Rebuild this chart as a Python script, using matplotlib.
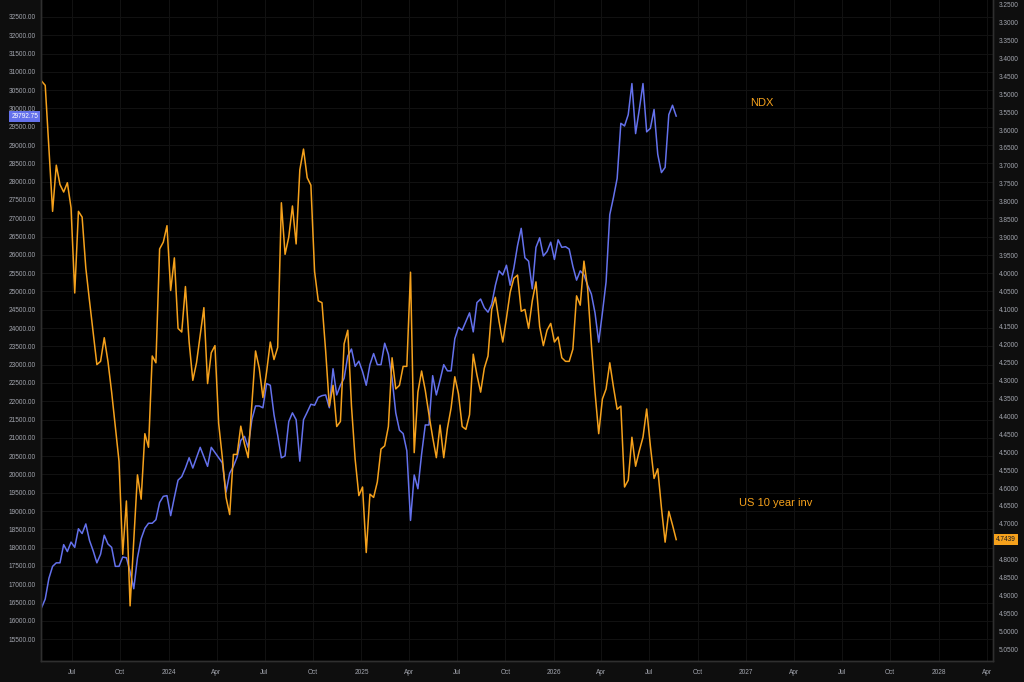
import numpy as np
import pandas as pd
import matplotlib
matplotlib.use("Agg")
import matplotlib.pyplot as plt
import matplotlib.dates as mdates
import matplotlib.ticker as mticker
import matplotlib.transforms as mtransforms

# weekly closes, first bar 2023-05-05
start = pd.Timestamp("2023-05-05")

ndx = [16359, 16597, 17163, 17490, 17586, 17586, 18083, 17894, 18152, 18009,
       18517, 18386, 18649, 18198, 17914, 17586, 17821, 18340, 18102, 18009,
       17490, 17490, 17744, 17725, 17348, 16878, 17725, 18245, 18528, 18668,
       18668, 18764, 19234, 19403, 19422, 18875, 19375, 19845, 19941, 20176,
       20458, 20176, 20458, 20742, 20480, 20222, 20742, 20600, 20457, 20318,
       19518, 20034, 20222, 20476, 20930, 21042, 20742, 21496, 21872, 21872,
       21823, 22484, 22438, 21635, 21072, 20457, 20506, 21446, 21684, 21496,
       20364, 21496, 21703, 21919, 21892, 22107, 22154, 22173, 21823, 22889,
       22173, 22438, 22627, 23238, 23427, 22954, 23096, 22812, 22438, 23001,
       23304, 23001, 23001, 23586, 23285, 22627, 21684, 21211, 21118, 20646,
       18745, 19987, 19610, 20553, 21353, 21353, 22700, 22173, 22577, 23001,
       22831, 22831, 23708, 24020, 23943, 24178, 24416, 23897, 24697, 24793,
       24555, 24435, 24651, 25170, 25564, 25452, 25717, 25170, 25640, 26252,
       26725, 25921, 25828, 25074, 26206, 26468, 25971, 26091, 26347, 25875,
       26413, 26206, 26224, 26159, 25687, 25310, 25564, 25452, 25170, 24932,
       24416, 23616, 24416, 25263, 27099, 27571, 28091, 29596, 29522, 29831,
       30681, 29314, 29973, 30681, 29361, 29457, 29973, 28749, 28249, 28391,
       29831, 30088, 29792.75]

# US 10y yield (plotted on an inverted axis), turning points by week number
us10_week = [0, 1, 3, 4, 5, 6, 7, 8, 9, 10, 11, 12, 13, 15, 16, 17, 18, 19, 21, 22,
             23, 24, 26, 27, 28, 29, 30, 31, 32, 33, 34, 35, 36, 37, 38, 39, 40, 41, 42, 44,
             45, 46, 47, 48, 49, 50, 51, 52, 53, 54, 55, 56, 58, 59, 60, 61, 62, 63, 64, 65,
             66, 67, 68, 69, 70, 71, 72, 73, 74, 75, 76, 77, 78, 79, 80, 81, 82, 83, 84, 85,
             86, 87, 88, 89, 90, 91, 92, 93, 94, 95, 96, 97, 98, 99, 100, 101, 102, 103, 104, 105,
             106, 107, 108, 109, 110, 111, 112, 113, 114, 115, 116, 117, 118, 119, 120, 121, 122, 123, 124, 125,
             126, 127, 128, 129, 130, 131, 132, 133, 134, 135, 136, 137, 138, 139, 140, 141, 142, 143, 144, 145,
             146, 147, 148, 149, 150, 151, 152, 153, 154, 155, 156, 157, 158, 159, 160, 161, 162, 163, 164, 165,
             166, 167, 168, 169, 170, 171, 172]
us10 = [3.463, 3.475, 3.827, 3.698, 3.752, 3.773, 3.747, 3.817, 4.055, 3.827,
        3.843, 3.985, 4.077, 4.255, 4.246, 4.180, 4.246, 4.332, 4.525, 4.785,
        4.636, 4.929, 4.563, 4.631, 4.448, 4.486, 4.231, 4.250, 3.932, 3.913,
        3.867, 4.048, 3.957, 4.154, 4.164, 4.037, 4.192, 4.299, 4.250, 4.096,
        4.308, 4.222, 4.202, 4.419, 4.515, 4.626, 4.674, 4.506, 4.506, 4.427,
        4.477, 4.515, 4.217, 4.265, 4.347, 4.275, 4.192, 4.241, 4.207, 3.803,
        3.947, 3.899, 3.812, 3.918, 3.711, 3.653, 3.733, 3.754, 3.995, 4.077,
        4.082, 4.217, 4.371, 4.313, 4.428, 4.414, 4.197, 4.159, 4.371, 4.520,
        4.621, 4.597, 4.780, 4.617, 4.626, 4.583, 4.491, 4.482, 4.428, 4.236,
        4.323, 4.313, 4.260, 4.260, 3.997, 4.501, 4.332, 4.273, 4.327, 4.395,
        4.458, 4.515, 4.424, 4.515, 4.433, 4.376, 4.289, 4.337, 4.428, 4.436,
        4.395, 4.226, 4.284, 4.332, 4.265, 4.231, 4.101, 4.067, 4.135, 4.192,
        4.125, 4.053, 4.014, 4.005, 4.106, 4.101, 4.154, 4.077, 4.024, 4.149,
        4.202, 4.159, 4.140, 4.192, 4.178, 4.236, 4.246, 4.246, 4.212, 4.063,
        4.089, 3.966, 4.043, 4.197, 4.332, 4.448, 4.351, 4.323, 4.250, 4.318,
        4.380, 4.371, 4.597, 4.578, 4.458, 4.539, 4.496, 4.458, 4.379, 4.482,
        4.573, 4.546, 4.655, 4.751, 4.665, 4.703, 4.7439]

left_ticks = np.arange(15500, 32501, 500)
right_ticks = np.arange(3.25, 5.0501, 0.05)

ndx_dates = start + pd.to_timedelta(7 * np.arange(len(ndx)), unit="D")
us10_dates = start + pd.to_timedelta(7 * np.array(us10_week), unit="D")

BLUE = "#6471ec"
ORANGE = "#f5a11c"
TXT = "#a3a6af"
FONT = "Liberation Sans"

plt.rcParams["font.family"] = [FONT, "DejaVu Sans"]

fig = plt.figure(figsize=(10.24, 6.82), dpi=100, facecolor="#0e0e0e")
ax = fig.add_axes([41 / 1024, 21 / 682, 952 / 1024, 661 / 682])
ax.set_facecolor("#000000")
ax2 = ax.twinx()

ax.plot(ndx_dates, ndx, color=BLUE, lw=1.1)
ax2.plot(us10_dates, us10, color=ORANGE, lw=1.1)

ax.set_xlim(pd.Timestamp("2023-05-04"), pd.Timestamp("2028-04-13"))
ax.set_ylim(14904, 32964)
ax2.set_ylim(5.083, 3.2366)

ax.set_yticks(left_ticks)
ax.yaxis.set_major_formatter(mticker.FormatStrFormatter("%.2f"))
ax2.set_yticks(right_ticks)
# the last-value tag sits over the 4.7500 label, as in the reference
ax2.yaxis.set_major_formatter(mticker.FuncFormatter(
    lambda v, p: "" if abs(v - 4.75) < 1e-6 else "%.4f" % v))

ax.xaxis.set_major_locator(mdates.MonthLocator(bymonth=[1, 4, 7, 10]))
ax.xaxis.set_major_formatter(mticker.FuncFormatter(
    lambda v, p: mdates.num2date(v).strftime("%Y" if mdates.num2date(v).month == 1 else "%b")))

for a in (ax, ax2):
    a.tick_params(length=0, labelsize=4.7, colors=TXT, pad=4)
    for s in a.spines.values():
        s.set_color("#2f2f2f")
        s.set_linewidth(1.0)
    a.spines["top"].set_visible(False)
ax.tick_params(axis="x", pad=6)

ax.grid(True, color="#121212", lw=0.7)

# last-value tags
tl = mtransforms.blended_transform_factory(ax.transAxes, ax.transData)
ax.text(-0.003, ndx[-1], "29792.75", transform=tl, ha="right", va="center",
        fontsize=4.7, color="white",
        bbox=dict(boxstyle="square,pad=0.3", fc=BLUE, ec="none"))
tr = mtransforms.blended_transform_factory(ax2.transAxes, ax2.transData)
ax2.text(1.003, us10[-1], "4.7439", transform=tr, ha="left", va="center",
         fontsize=4.7, color="#131722",
         bbox=dict(boxstyle="square,pad=0.3", fc=ORANGE, ec="none"))

ax2.text(0.7574, 0.844, "NDX", transform=ax2.transAxes, ha="center", va="center",
         fontsize=8, color=ORANGE)
ax2.text(0.772, 0.239, "US 10 year inv", transform=ax2.transAxes, ha="center",
         va="center", fontsize=8, color=ORANGE)

fig.savefig("out.png", dpi=100, facecolor=fig.get_facecolor())
